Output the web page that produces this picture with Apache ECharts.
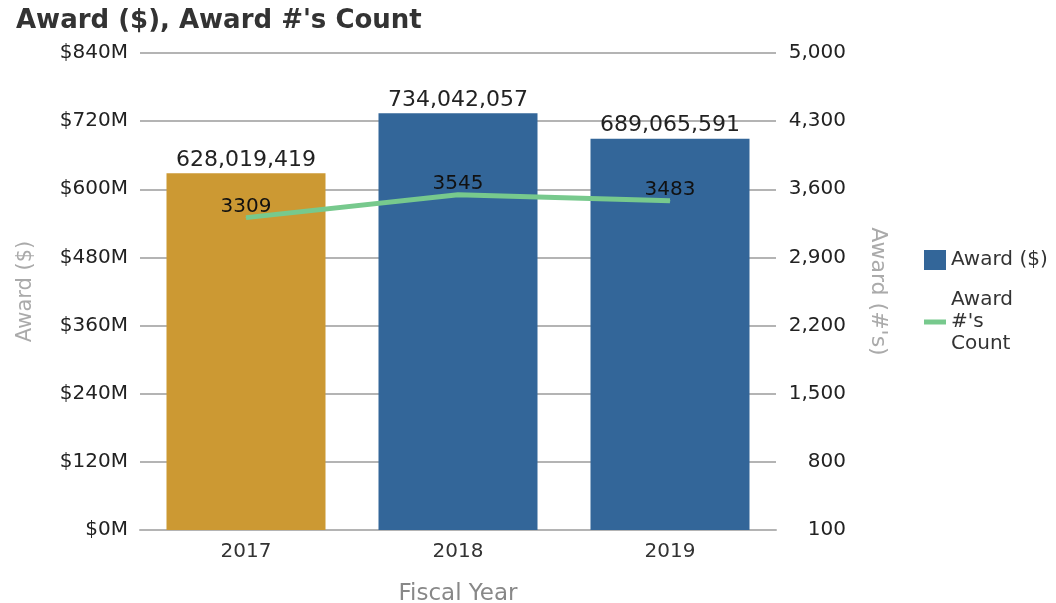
<!DOCTYPE html>
<html>
<head>
<meta charset="utf-8">
<script src="https://cdn.jsdelivr.net/npm/echarts@6/dist/echarts.min.js"></script>
<style>
  html, body { margin: 0; padding: 0; background: #fff; }
  #main { width: 1056px; height: 603px; }
</style>
</head>
<body>
<div id="main"></div>
<script>
// data
var years = ['2017', '2018', '2019'];
var awardAmount = [628019419, 734042057, 689065591];
var awardCount = [3309, 3545, 3483];
var barColors = ['#CC9933', '#336699', '#336699'];

var font = 'DejaVu Sans';
var myChart = echarts.init(document.getElementById('main'));

function withCommas(v) {
    return String(v).replace(/\B(?=(\d{3})+(?!\d))/g, ',');
}

var option = {
    animation: false,
    textStyle: { fontFamily: font },
    title: {
        text: "Award ($), Award #'s Count",
        left: 11,
        top: 3,
        textStyle: { fontFamily: font, fontSize: 26, fontWeight: 'bold', color: '#333' }
    },
    legend: {
        orient: 'vertical',
        left: 919,
        top: 244,
        itemGap: 18,
        itemWidth: 22,
        itemHeight: 20,
        textStyle: { fontFamily: font, fontSize: 20, color: '#333', lineHeight: 22 },
        formatter: function (name) {
            return name.indexOf('Count') > -1 ? "Award\n#'s\nCount" : name;
        },
        data: [
            { name: 'Award ($)', icon: 'rect' },
            { name: "Award #'s Count", icon: 'path://M0,0 L22,0 L22,5 L0,5 Z' }
        ]
    },
    grid: {
        left: 140,
        right: 280,
        top: 53,
        bottom: 73,
        outerBoundsMode: 'none'
    },
    xAxis: {
        type: 'category',
        data: years,
        name: 'Fiscal Year',
        nameLocation: 'middle',
        nameGap: 53,
        nameTextStyle: { fontFamily: font, fontSize: 23, color: '#888' },
        axisLine: { lineStyle: { color: '#b4b4b4', width: 2 } },
        axisTick: { show: false },
        axisLabel: { fontFamily: font, fontSize: 20, color: '#333', margin: 12 }
    },
    yAxis: [
        {
            type: 'value',
            min: 0,
            max: 840e6,
            interval: 120e6,
            name: 'Award ($)',
            nameLocation: 'middle',
            nameGap: 104,
            nameTextStyle: { fontFamily: font, fontSize: 21, color: '#aaa' },
            axisLine: { show: false },
            axisTick: { show: false },
            splitLine: { lineStyle: { color: '#b4b4b4', width: 2 } },
            axisLabel: {
                fontFamily: font, fontSize: 20, color: '#222', margin: 12,
                formatter: function (v) { return '$' + Math.round(v / 1e6) + 'M'; }
            }
        },
        {
            type: 'value',
            min: 100,
            max: 5000,
            interval: 700,
            name: "Award (#'s)",
            nameLocation: 'middle',
            nameRotate: -90,
            nameGap: 91,
            nameTextStyle: { fontFamily: font, fontSize: 22, color: '#aaa' },
            axisLine: { show: false },
            axisTick: { show: false },
            splitLine: { show: false },
            axisLabel: {
                fontFamily: font, fontSize: 20, color: '#222', margin: 70, align: 'right',
                formatter: function (v) { return withCommas(v); }
            }
        }
    ],
    series: [
        {
            name: 'Award ($)',
            type: 'bar',
            barWidth: '75%',
            itemStyle: { color: '#336699' },
            label: {
                show: true,
                position: 'top',
                distance: 2,
                fontFamily: font,
                fontSize: 22,
                color: '#222',
                formatter: function (p) { return withCommas(p.value); }
            },
            data: awardAmount.map(function (v, i) {
                return { value: v, itemStyle: { color: barColors[i] } };
            })
        },
        {
            name: "Award #'s Count",
            type: 'line',
            yAxisIndex: 1,
            symbol: 'circle',
            symbolSize: 1,
            showSymbol: true,
            lineStyle: { color: '#77C98D', width: 5 },
            itemStyle: { color: '#77C98D' },
            label: {
                show: true,
                position: 'top',
                distance: 0,
                fontFamily: font,
                fontSize: 20,
                color: '#111'
            },
            data: awardCount
        }
    ]
};

myChart.setOption(option);
</script>
</body>
</html>
